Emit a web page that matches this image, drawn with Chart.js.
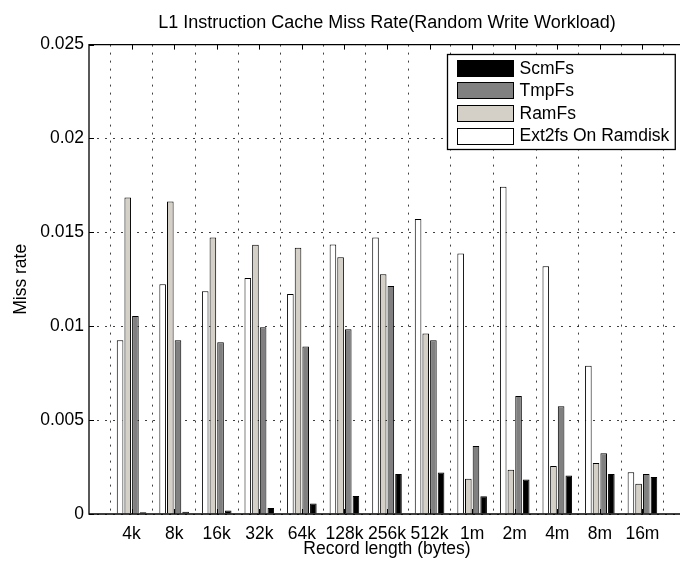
<!DOCTYPE html>
<html>
<head>
<meta charset="utf-8">
<script src="https://cdn.jsdelivr.net/npm/chart.js@4"></script>
<style>
  html, body { margin: 0; padding: 0; background: #fff; overflow: hidden; }
  #wrap { width: 690px; height: 563px; }
</style>
</head>
<body>
<div id="wrap"><canvas id="chart"></canvas></div>
<script>
// record sizes on the x axis
const categories = ['4k', '8k', '16k', '32k', '64k', '128k', '256k', '512k', '1m', '2m', '4m', '8m', '16m'];

// miss rate per file system
const ext2fs = [0.00926, 0.01223, 0.01186, 0.01257, 0.01172, 0.01436, 0.01473, 0.01571, 0.01388, 0.01743, 0.01319, 0.0079, 0.00223];
const ramfs  = [0.01686, 0.01665, 0.01473, 0.01434, 0.01418, 0.01367, 0.01277, 0.00961, 0.00188, 0.00236, 0.00255, 0.00271, 0.00161];
const tmpfs  = [0.01055, 0.00926, 0.00915, 0.00995, 0.00892, 0.00984, 0.01214, 0.00926, 0.00362, 0.00629, 0.00574, 0.00324, 0.00213];
const scmfs  = [0.00009, 0.00012, 0.00018, 0.00032, 0.00056, 0.00096, 0.00213, 0.00221, 0.00094, 0.00184, 0.00205, 0.00213, 0.00197];

const yTicks = [0, 0.005, 0.01, 0.015, 0.02, 0.025];

const FONT = "'Liberation Sans', Arial, Helvetica, sans-serif";
Chart.defaults.color = '#000';
Chart.defaults.font.family = FONT;

function toPoints(arr) {
    return arr.map((v, i) => ({ x: i + 1, y: v }));
}

function series(label, arr, color) {
    return {
        label: label,
        data: toPoints(arr),
        backgroundColor: color,
        borderColor: '#000',
        borderWidth: 1,
        categoryPercentage: 0.72,
        barPercentage: 0.86
    };
}

// axes lines, inward ticks and the legend box (drawn like the matlab figure)
const framePlugin = {
    id: 'frame',
    afterDatasetsDraw(chart) {
        const { ctx, chartArea: a, scales: { x, y } } = chart;
        ctx.save();
        ctx.strokeStyle = '#000';
        ctx.lineWidth = 1.3;
        ctx.beginPath();
        ctx.moveTo(a.right, a.top);
        ctx.lineTo(a.left, a.top);
        ctx.lineTo(a.left, a.bottom);
        ctx.lineTo(a.right, a.bottom);
        ctx.stroke();

        ctx.beginPath();
        x.ticks.forEach(t => {
            const px = Math.round(x.getPixelForValue(t.value)) + 0.5;
            ctx.moveTo(px, a.top); ctx.lineTo(px, a.top + 5);
            ctx.moveTo(px, a.bottom); ctx.lineTo(px, a.bottom - 5);
        });
        y.ticks.forEach(t => {
            const py = Math.round(y.getPixelForValue(t.value)) + 0.5;
            ctx.moveTo(a.left, py); ctx.lineTo(a.left + 5, py);
        });
        ctx.lineWidth = 1;
        ctx.stroke();

        // legend, reversed order like matlab
        const items = chart.data.datasets.slice().reverse();
        ctx.font = '17.5px ' + FONT;
        const maxW = Math.max(...items.map(d => ctx.measureText(d.label).width));
        const swW = 56, swH = 16, rowH = 22.6;
        const boxW = 10 + swW + 6 + maxW + 6;
        const boxH = 95;
        const bx = Math.round(a.right - 10 - boxW) + 0.5;
        const by = Math.round(a.top + 9) + 0.5;
        ctx.fillStyle = '#fff';
        ctx.fillRect(bx, by, boxW, boxH);
        ctx.lineWidth = 1.3;
        ctx.strokeRect(bx, by, boxW, boxH);
        ctx.textBaseline = 'middle';
        ctx.textAlign = 'left';
        items.forEach((d, i) => {
            const cy = by + 13.3 + i * rowH;
            ctx.fillStyle = d.backgroundColor;
            ctx.fillRect(bx + 10, Math.round(cy - swH / 2) + 0.5, swW, swH);
            ctx.lineWidth = 1;
            ctx.strokeStyle = '#000';
            ctx.strokeRect(bx + 10, Math.round(cy - swH / 2) + 0.5, swW, swH);
            ctx.fillStyle = '#000';
            ctx.fillText(d.label, bx + 10 + swW + 6, cy + 1);
        });
        ctx.restore();
    }
};

new Chart(document.getElementById('chart'), {
    type: 'bar',
    data: {
        datasets: [
            series('Ext2fs On Ramdisk', ext2fs, '#ffffff'),
            series('RamFs', ramfs, '#d4d0c8'),
            series('TmpFs', tmpfs, '#808080'),
            series('ScmFs', scmfs, '#000000')
        ]
    },
    options: {
        responsive: true,
        maintainAspectRatio: false,
        animation: false,
        layout: { padding: { left: 0, right: 5, top: 0, bottom: 0 } },
        plugins: {
            legend: { display: false },
            tooltip: { enabled: false },
            title: {
                display: true,
                fullSize: false,
                text: 'L1 Instruction Cache Miss Rate(Random Write Workload)',
                font: { size: 18, weight: 'normal' },
                padding: { top: 12, bottom: 11 }
            }
        },
        scales: {
            x: {
                type: 'linear',
                min: 0,
                max: 14,
                offset: false,
                afterBuildTicks: (scale) => {
                    scale.ticks = categories.map((c, i) => ({ value: i + 1 }));
                },
                afterFit: (scale) => { scale.height = 49; },
                ticks: {
                    font: { size: 17.5 },
                    padding: 10,
                    maxRotation: 0,
                    autoSkip: false,
                    callback: (v) => categories[v - 1]
                },
                grid: { color: 'rgba(0,0,0,0.75)', lineWidth: 1, drawTicks: false },
                border: { display: false, dash: [2, 6] },
                title: {
                    display: true,
                    text: 'Record length (bytes)',
                    font: { size: 17.5 },
                    padding: { top: 0, bottom: 3 }
                }
            },
            y: {
                min: 0,
                max: 0.025,
                afterBuildTicks: (scale) => {
                    scale.ticks = yTicks.map(v => ({ value: v }));
                },
                afterFit: (scale) => { scale.width = 89; },
                ticks: {
                    font: { size: 17.5 },
                    padding: 5,
                    callback: (v) => String(+v.toFixed(3))
                },
                grid: { color: 'rgba(0,0,0,0.75)', lineWidth: 1, drawTicks: false },
                border: { display: false, dash: [2, 6] },
                title: {
                    display: true,
                    text: 'Miss rate',
                    font: { size: 17.5 },
                    padding: { top: 11, bottom: 0 }
                }
            }
        }
    },
    plugins: [framePlugin]
});
</script>
</body>
</html>
